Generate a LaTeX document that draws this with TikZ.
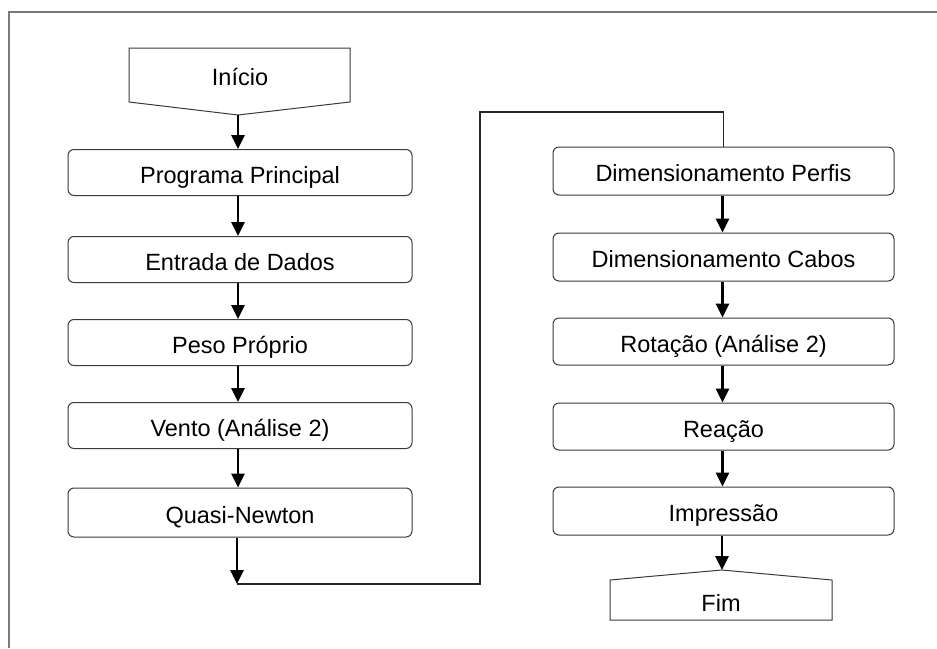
\documentclass[tikz,border=0pt]{standalone}
\usepackage{fontspec}
\setmainfont{Liberation Sans}
\usetikzlibrary{arrows.meta}
\definecolor{framegray}{HTML}{7A7A7A}
\definecolor{boxline}{HTML}{3A3A3A}
\tikzset{
  procbox/.style={draw=boxline, line width=1pt, rounded corners=6pt, fill=white,
    minimum height=46pt, inner sep=0pt, text height=21pt, text depth=0pt,
    font=\fontsize{23.5}{28}\selectfont},
  leftbox/.style={procbox, minimum width=344pt},
  rightbox/.style={procbox, minimum width=341pt},
  termtext/.style={inner sep=0pt, font=\fontsize{23.5}{28}\selectfont},
  termline/.style={draw=boxline, line width=1pt, line join=miter},
  flow/.style={line width=2.6pt, -{Triangle[length=14pt,width=13pt]}},
  link/.style={draw=black!85, line width=1.1pt}
}
\begin{document}
\begin{tikzpicture}[x=1pt, y=-1pt]
  \useasboundingbox (0,0) rectangle (937,648);
  \fill[white] (0,0) rectangle (937,648);
  % outer frame (top and left edges)
  \draw[framegray, line width=2pt] (8.5,648) -- (8.5,11.5) -- (937,11.5);

  % start terminal
  \draw[termline] (129,48) -- (350,48) -- (350,102) -- (238,115) -- (129,102) -- cycle;
  \node[termtext] (inicio) at (240,77) {Início};
  \coordinate (inicioTip) at (238,115);

  % left column
  \node[leftbox] (prog)   at (240,172.5) {Programa Principal};
  \node[leftbox] (dados)  at (240,259.5) {Entrada de Dados};
  \node[leftbox] (peso)   at (240,342.5) {Peso Próprio};
  \node[leftbox] (vento)  at (240,425.5) {Vento (Análise 2)};
  \node[leftbox, minimum height=49pt] (quasi) at (240,512.5) {Quasi-Newton};

  % right column
  \node[rightbox, minimum height=48pt] (perfis)  at (723.5,171) {Dimensionamento Perfis};
  \node[rightbox, minimum height=48pt] (cabos)   at (723.5,257) {Dimensionamento Cabos};
  \node[rightbox, minimum height=47pt] (rotacao) at (723.5,341.5) {Rotação (Análise 2)};
  \node[rightbox, minimum height=47pt] (reacao)  at (723.5,426.5) {Reação};
  \node[rightbox, minimum height=48pt] (impr)    at (723.5,511) {Impressão};

  % end terminal
  \draw[termline] (722,570) -- (832,580) -- (832,620) -- (610,620) -- (610,580) -- cycle;
  \node[termtext] (fim) at (721,603) {Fim};
  \coordinate (fimTip) at (722,570);

  % flow arrows, left column
  \draw[flow] (inicioTip) -- (inicioTip |- prog.north);
  \draw[flow] ([xshift=-2pt]prog.south)  -- ([xshift=-2pt]dados.north);
  \draw[flow] ([xshift=-2pt]dados.south) -- ([xshift=-2pt]peso.north);
  \draw[flow] ([xshift=-2pt]peso.south)  -- ([xshift=-2pt]vento.north);
  \draw[flow] ([xshift=-2pt]vento.south) -- ([xshift=-2pt]quasi.north);

  % jump from the left column to the right column
  \coordinate (jumpA) at (237,584);
  \coordinate (jumpB) at (480,584);
  \coordinate (jumpC) at (480,112);
  \coordinate (jumpD) at (723.5,112);
  \draw[flow] ([xshift=-3pt]quasi.south) -- (jumpA);
  \draw[link] (jumpA) -- (jumpB) -- (jumpC) -- (jumpD) -- (perfis.north);

  % flow arrows, right column
  \draw[flow] ([xshift=-1pt]perfis.south)  -- ([xshift=-1pt]cabos.north);
  \draw[flow] ([xshift=-1pt]cabos.south)   -- ([xshift=-1pt]rotacao.north);
  \draw[flow] ([xshift=-1pt]rotacao.south) -- ([xshift=-1pt]reacao.north);
  \draw[flow] ([xshift=-1pt]reacao.south)  -- ([xshift=-1pt]impr.north);
  \draw[flow] (impr.south -| fimTip) -- (fimTip);
\end{tikzpicture}
\end{document}
